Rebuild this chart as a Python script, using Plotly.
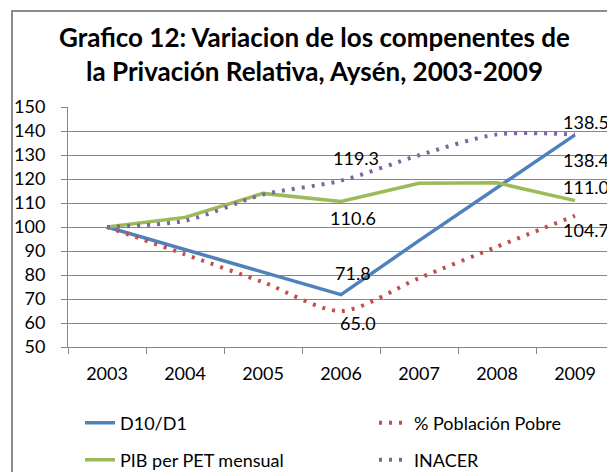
import plotly.graph_objects as go

years = ["2003", "2004", "2005", "2006", "2007", "2008", "2009"]
d10_d1 = [100, 90.7, 81.3, 71.8, 94.3, 116.4, 138.4]
poblacion_pobre = [100, 88.6, 77.0, 65.0, 78.7, 91.8, 104.7]
pib_pet = [100, 104.0, 114.0, 110.6, 118.2, 118.4, 111.0]
inacer = [100, 102.6, 113.5, 119.3, 129.9, 138.6, 138.5]
y_ticks = [50, 60, 70, 80, 90, 100, 110, 120, 130, 140, 150]

# data labels: (series values, index, xshift, yshift)
labels = [
    (inacer, 6, 11, 13),
    (d10_d1, 6, 11, -25),
    (pib_pet, 6, 11, 14),
    (poblacion_pobre, 6, 11, -14),
    (inacer, 3, 15, 23),
    (pib_pet, 3, 12, -16),
    (d10_d1, 3, 12, 22),
    (poblacion_pobre, 3, 17, -12),
]

FONT = "Lato"
OFF = 8  # page body margin
W, H = 615, 472
# plot area in page pixels: x 68..614, y 107..347
L = 68 - OFF
R = W - (614 - OFF)
T = 107 - OFF
B = H - (347 - OFF)
pw, ph = W - L - R, H - T - B

def px_x(page_x):
    return (page_x - OFF - L) / pw

def px_y(page_y):
    return (H - B - (page_y - OFF)) / ph

def cx(page_x):
    return (page_x - OFF) / W

def cy(page_y):
    return 1 - (page_y - OFF) / H

fig = go.Figure()
fig.add_trace(go.Scatter(x=years, y=d10_d1, name="D10/D1", mode="lines",
                         line=dict(color="#4F81BD", width=3.5), legend="legend"))
fig.add_trace(go.Scatter(x=years, y=poblacion_pobre, name="% Población Pobre", mode="lines",
                         line=dict(color="#C0504D", width=4, dash="3px,7px", shape="spline", smoothing=0.8),
                         legend="legend2"))
fig.add_trace(go.Scatter(x=years, y=pib_pet, name="PIB per PET mensual", mode="lines",
                         line=dict(color="#9BBB59", width=3.5), legend="legend3"))
fig.add_trace(go.Scatter(x=years, y=inacer, name="INACER", mode="lines",
                         line=dict(color="#8064A2", width=4, dash="3px,7px", shape="spline", smoothing=0.8),
                         legend="legend4"))

for vals, i, xs, ys in labels:
    fig.add_annotation(x=i, y=vals[i], xref="x", yref="y", text=f"{vals[i]:.1f}", showarrow=False,
                       xshift=xs, yshift=ys, font=dict(family=FONT, size=18, color="#000"))

gray = "#878787"
# chart frame
fig.add_shape(type="rect", xref="paper", yref="paper",
              x0=px_x(12), x1=px_x(680), y0=px_y(540), y1=px_y(11),
              line=dict(color="#8c8c8c", width=2), fillcolor="rgba(0,0,0,0)", layer="below")

def leg(xpx, ypx):
    return dict(orientation="h", xref="container", yref="container",
                x=cx(xpx), xanchor="left", y=cy(ypx), yanchor="middle",
                font=dict(family=FONT, size=18), bgcolor="rgba(0,0,0,0)")

fig.update_layout(
    width=W, height=H,
    margin=dict(l=L, r=R, t=T, b=B, autoexpand=False),
    paper_bgcolor="white", plot_bgcolor="white",
    font=dict(family=FONT, size=18, color="#000"),
    title=dict(text="<b>Grafico 12: Variacion de los compenentes de<br>la Privación Relativa, Aysén, 2003-2009</b>",
               x=px_x(314.5), xanchor="center", xref="paper",
               y=cy(47), yanchor="top", yref="container",
               font=dict(family=FONT, size=26, color="#000")),
    xaxis=dict(type="category", tickvals=years, showgrid=False, showline=True, linecolor=gray, linewidth=1,
               ticks="outside", tickson="boundaries", ticklen=6, tickcolor=gray, ticklabelstandoff=10,
               tickfont=dict(family=FONT, size=18), range=[-0.5, 6.5], fixedrange=True, automargin=False),
    yaxis=dict(range=[50, 150], tickvals=y_ticks, showgrid=True, gridcolor=gray, gridwidth=1,
               showline=True, linecolor=gray, linewidth=1, ticks="outside", ticklen=6, tickcolor=gray,
               tickfont=dict(family=FONT, size=18), ticklabelstandoff=12, zeroline=False, automargin=False),
    legend=leg(80, 423),
    legend2=leg(374, 423),
    legend3=leg(80, 460),
    legend4=leg(374, 460),
    showlegend=True,
)

fig.write_html("out.html")
